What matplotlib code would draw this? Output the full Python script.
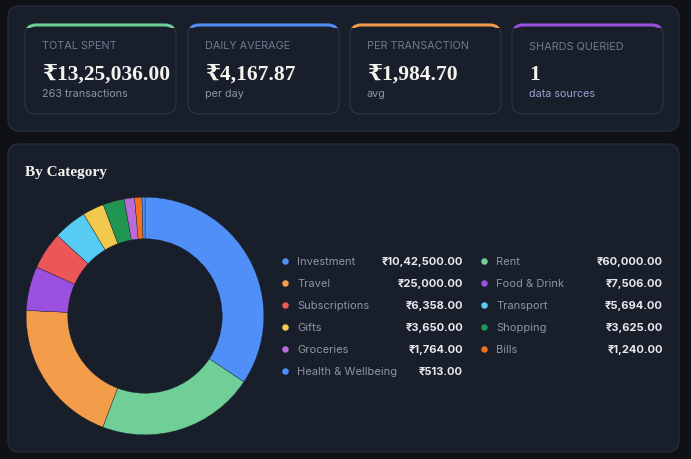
import matplotlib
matplotlib.use("Agg")
import matplotlib.pyplot as plt
from matplotlib.patches import FancyBboxPatch, Rectangle

# summary cards
card_titles = ["TOTAL SPENT", "DAILY AVERAGE", "PER TRANSACTION", "SHARDS QUERIED"]
card_values = ["₹13,25,036.00", "₹4,167.87", "₹1,984.70", "1"]
card_notes = ["263 transactions", "per day", "avg", "data sources"]
card_colors = ["#6fcf97", "#4f8ff7", "#f2994a", "#9b51e0"]

# category breakdown (legend amounts)
categories = ["Investment", "Rent", "Travel", "Food & Drink", "Subscriptions",
              "Transport", "Gifts", "Shopping", "Groceries", "Bills",
              "Health & Wellbeing"]
amounts = [1042500, 60000, 25000, 7506, 6358, 5694, 3650, 3625, 1764, 1240, 513]
# slice sizes as drawn in the donut
slice_sizes = [43000, 26800, 25000, 7506, 6358, 5694, 3650, 3625, 1764, 1240, 513]
cat_colors = ["#4f8ff7", "#6fcf97", "#f39c4a", "#9b51e0", "#eb5757", "#56ccf2",
              "#f2c94c", "#219653", "#bb6bd9", "#f2711c", "#4f8ff7"]

PAGE = "#0f1116"
PANEL = "#191e2b"
PANEL_EDGE = "#262c3a"
CARD_EDGE = "#2b3243"
SERIF = ["Liberation Serif", "DejaVu Serif"]
SANS = ["Inter", "DejaVu Sans"]


def inr(v):
    whole, frac = f"{v:.2f}".split(".")
    if len(whole) > 3:
        head, tail = whole[:-3], whole[-3:]
        parts = []
        while len(head) > 2:
            parts.insert(0, head[-2:])
            head = head[:-2]
        if head:
            parts.insert(0, head)
        whole = ",".join(parts + [tail])
    return "₹" + whole + "." + frac


def rbox(ax, x, y, w, h, r, fc, ec="none", lw=0, z=1):
    p = FancyBboxPatch((x, y), w, h, boxstyle=f"round,pad=0,rounding_size={r}",
                       fc=fc, ec=ec, lw=lw, zorder=z)
    ax.add_patch(p)
    return p


fig = plt.figure(figsize=(6.91, 4.60), dpi=100, facecolor=PAGE)
ax = fig.add_axes([0, 0, 1, 1])
ax.set_xlim(0, 691)
ax.set_ylim(460, 0)
ax.axis("off")

# panels
rbox(ax, 8, 7, 671, 125, 12, PANEL, PANEL_EDGE, 1)
rbox(ax, 8, 145, 671, 308, 12, PANEL, PANEL_EDGE, 1)

# cards
card_x = [25, 188, 350, 512]
card_w = 151
for i in range(4):
    x = card_x[i]
    rbox(ax, x, 25, card_w, 90, 11, PANEL, CARD_EDGE, 1, z=2)
    strip = rbox(ax, x - 0.5, 24.5, card_w + 1, 40, 11.5, card_colors[i], z=3)
    strip.set_clip_path(Rectangle((0, 20), 691, 8.5, transform=ax.transData))
    rbox(ax, x + 0.8, 27.5, card_w - 1.6, 86, 10.5, PANEL, z=4)
    ax.text(x + 17, 46, card_titles[i], fontsize=7.8, color="#707a8f",
            family=SANS, va="center", ha="left", zorder=5)
    ax.text(x + 17, 80, card_values[i], fontsize=15.5, color="#f5f3ee",
            family=SERIF, fontweight="bold", va="baseline", ha="left", zorder=5)
    ax.text(x + 17, 94, card_notes[i], fontsize=7.8,
            color="#9a9fd0" if i == 3 else "#8a93a8",
            family=SANS, va="center", ha="left", zorder=5)

ax.text(25, 173, "By Category", fontsize=11, color="#f5f3ee", family=SERIF,
        fontweight="bold", va="center", ha="left")

# legend, two columns, row-major
col_dot = [285, 484]
col_right = [463, 663]
for k, name in enumerate(categories):
    col = k % 2
    row = k // 2
    y = 262 + row * 22
    ax.scatter([col_dot[col]], [y], s=22, color=cat_colors[k], zorder=5, lw=0)
    ax.text(col_dot[col] + 12, y, name, fontsize=8, color="#8d94a6",
            family=SANS, va="center", ha="left")
    ax.text(col_right[col], y, inr(amounts[k]), fontsize=8, color="#e8e9ee",
            family=SANS, fontweight="bold", va="center", ha="right")

# donut
cx, cy, R = 145, 317, 120
pax = fig.add_axes([(cx - R) / 691, (460 - cy - R) / 460, 2 * R / 691, 2 * R / 460])
pax.pie(slice_sizes, colors=cat_colors, startangle=90, counterclock=False,
        radius=1, wedgeprops=dict(width=42 / 120, edgecolor=PANEL, linewidth=0.25))
pax.set_xlim(-1.01, 1.01)
pax.set_ylim(-1.01, 1.01)
pax.set_aspect("equal")
pax.axis("off")

fig.savefig("out.png", dpi=100, facecolor=PAGE)
